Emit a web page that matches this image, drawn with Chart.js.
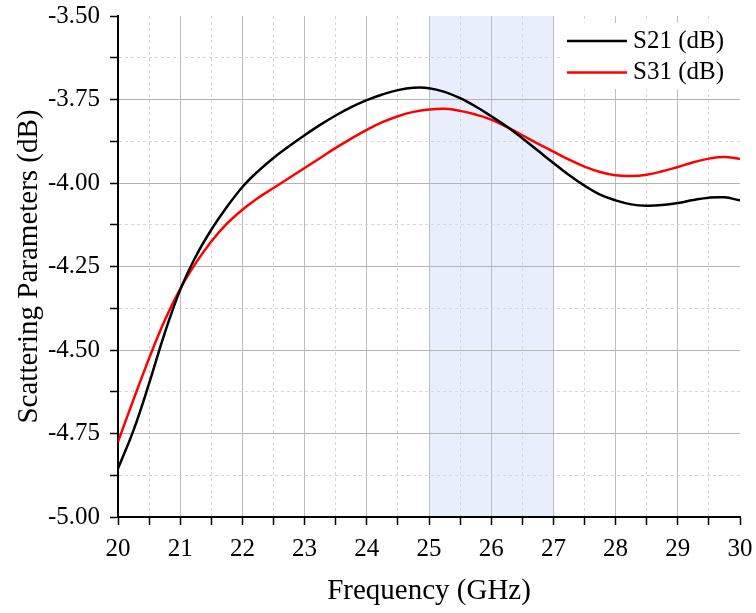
<!DOCTYPE html>
<html>
<head>
<meta charset="utf-8">
<script src="https://cdn.jsdelivr.net/npm/chart.js@4"></script>
<style>
    html, body { margin: 0; padding: 0; background: #fff; }
    #wrap { width: 756px; height: 613px; }
</style>
</head>
<body>
<div id="wrap"><canvas id="sparamChart" width="756" height="613"></canvas></div>
<script>
const freqGHz = [20, 20.25, 20.5, 20.75, 21, 21.25, 21.5, 21.75, 22, 22.25, 22.5, 22.75,
    23, 23.25, 23.5, 23.75, 24, 24.25, 24.5, 24.75, 25, 25.25, 25.5, 25.75,
    26, 26.25, 26.5, 26.75, 27, 27.25, 27.5, 27.75, 28, 28.25, 28.5, 28.75,
    29, 29.25, 29.5, 29.75, 30];

const s21 = [-4.855, -4.74, -4.60, -4.45, -4.32, -4.22, -4.14, -4.072, -4.012, -3.965, -3.925, -3.89,
    -3.857, -3.826, -3.798, -3.773, -3.752, -3.735, -3.722, -3.715, -3.716, -3.727, -3.746, -3.771,
    -3.80, -3.831, -3.866, -3.903, -3.94, -3.976, -4.008, -4.035, -4.052, -4.064, -4.068, -4.066,
    -4.06, -4.051, -4.044, -4.043, -4.052];

const s31 = [-4.775, -4.648, -4.525, -4.412, -4.317, -4.24, -4.175, -4.122, -4.08, -4.045, -4.015, -3.985,
    -3.955, -3.925, -3.895, -3.867, -3.841, -3.818, -3.80, -3.787, -3.78, -3.778, -3.784, -3.795,
    -3.81, -3.832, -3.857, -3.882, -3.906, -3.93, -3.951, -3.967, -3.977, -3.979, -3.975, -3.965,
    -3.952, -3.938, -3.927, -3.922, -3.928];

const seriesLabels = ['S21 (dB)', 'S31 (dB)'];
const shadedBand = [25, 27];

Chart.defaults.font.family = "'Liberation Serif', 'Times New Roman', serif";
Chart.defaults.color = '#000';

function isMajor(v, step) {
    const r = v / step;
    return Math.abs(r - Math.round(r)) < 1e-6;
}

// light blue band behind the grid
const bandPlugin = {
    id: 'band',
    beforeDraw(chart) {
        const { ctx, chartArea, scales } = chart;
        const x0 = scales.x.getPixelForValue(shadedBand[0]);
        const x1 = scales.x.getPixelForValue(shadedBand[1]);
        ctx.save();
        ctx.fillStyle = 'rgb(232, 238, 252)';
        ctx.fillRect(x0, chartArea.top, x1 - x0, chartArea.bottom - chartArea.top);
        ctx.restore();
    }
};

// boxed legend sitting inside the plot, top right
const innerLegend = {
    id: 'innerLegend',
    afterDraw(chart) {
        const { ctx, chartArea } = chart;
        const boxRight = chartArea.right;
        const boxLeft = boxRight - 177;
        const top = chartArea.top + 7;
        ctx.save();
        ctx.fillStyle = '#fff';
        ctx.fillRect(boxLeft, top, boxRight - boxLeft, 66);
        ctx.font = "25px 'Liberation Serif'";
        ctx.textBaseline = 'middle';
        chart.data.datasets.forEach((ds, i) => {
            const y = top + 18 + i * 31.5;
            ctx.strokeStyle = ds.borderColor;
            ctx.lineWidth = 2.5;
            ctx.beginPath();
            ctx.moveTo(boxLeft + 4, y);
            ctx.lineTo(boxLeft + 64, y);
            ctx.stroke();
            ctx.fillStyle = '#000';
            ctx.fillText(ds.label, boxLeft + 70, y);
        });
        ctx.restore();
    }
};

function buildChart() {
    const canvas = document.getElementById('sparamChart');
    const ctx = canvas.getContext('2d');

    new Chart(ctx, {
        type: 'line',
        data: {
            datasets: [{
                label: seriesLabels[0],
                data: freqGHz.map((f, i) => ({ x: f, y: s21[i] })),
                borderColor: '#000000',
                borderWidth: 2.5,
                pointRadius: 0,
                tension: 0.4,
                fill: false
            }, {
                label: seriesLabels[1],
                data: freqGHz.map((f, i) => ({ x: f, y: s31[i] })),
                borderColor: '#ff0000',
                borderWidth: 2.5,
                pointRadius: 0,
                tension: 0.4,
                fill: false
            }]
        },
        options: {
            responsive: false,
            animation: false,
            devicePixelRatio: 1,
            layout: { padding: { top: 16, right: 16, left: 0, bottom: 0 } },
            plugins: {
                legend: { display: false },
                tooltip: { enabled: false }
            },
            scales: {
                x: {
                    type: 'linear',
                    min: 20,
                    max: 30,
                    afterFit: (scale) => {
                        scale.height = 96;
                        scale.paddingLeft = 0;
                        scale.paddingRight = 0;
                    },
                    ticks: {
                        stepSize: 0.5,
                        autoSkip: false,
                        maxRotation: 0,
                        padding: 9,
                        font: { size: 25 },
                        callback: (v) => isMajor(v, 1) ? String(v) : ''
                    },
                    grid: {
                        color: (c) => {
                            if (!c.tick) return '#000';
                            const v = c.tick.value;
                            if (v <= 20 || v >= 30) return 'rgba(0,0,0,0)';
                            return isMajor(v, 1) ? '#bdbdbd' : '#d6d6d6';
                        },
                        tickColor: '#000',
                        tickWidth: 1.5,
                        tickLength: 8
                    },
                    border: {
                        color: '#000',
                        width: 2,
                        dash: (c) => (c.tick && !isMajor(c.tick.value, 1)) ? [3, 3] : []
                    },
                    title: {
                        display: true,
                        text: 'Frequency (GHz)',
                        font: { size: 29 },
                        padding: { top: 0, bottom: 4 }
                    }
                },
                y: {
                    min: -5,
                    max: -3.5,
                    afterFit: (scale) => {
                        scale.width = 118;
                        scale.paddingTop = 0;
                        scale.paddingBottom = 0;
                    },
                    ticks: {
                        stepSize: 0.125,
                        autoSkip: false,
                        padding: 10,
                        font: { size: 25 },
                        callback: (v) => isMajor(v, 0.25) ? v.toFixed(2) : ''
                    },
                    grid: {
                        color: (c) => {
                            if (!c.tick) return '#000';
                            const v = c.tick.value;
                            if (v <= -5 || v >= -3.5) return 'rgba(0,0,0,0)';
                            return isMajor(v, 0.25) ? '#b4b4b4' : '#d6d6d6';
                        },
                        tickColor: '#000',
                        tickWidth: 1.5,
                        tickLength: 8
                    },
                    border: {
                        color: '#000',
                        width: 2,
                        dash: (c) => (c.tick && !isMajor(c.tick.value, 0.25)) ? [3, 3] : []
                    },
                    title: {
                        display: true,
                        text: 'Scattering Parameters (dB)',
                        font: { size: 29 },
                        padding: { top: 12, bottom: 0 }
                    }
                }
            }
        },
        plugins: [bandPlugin, innerLegend]
    });
}

document.addEventListener('DOMContentLoaded', buildChart);
</script>
</body>
</html>
